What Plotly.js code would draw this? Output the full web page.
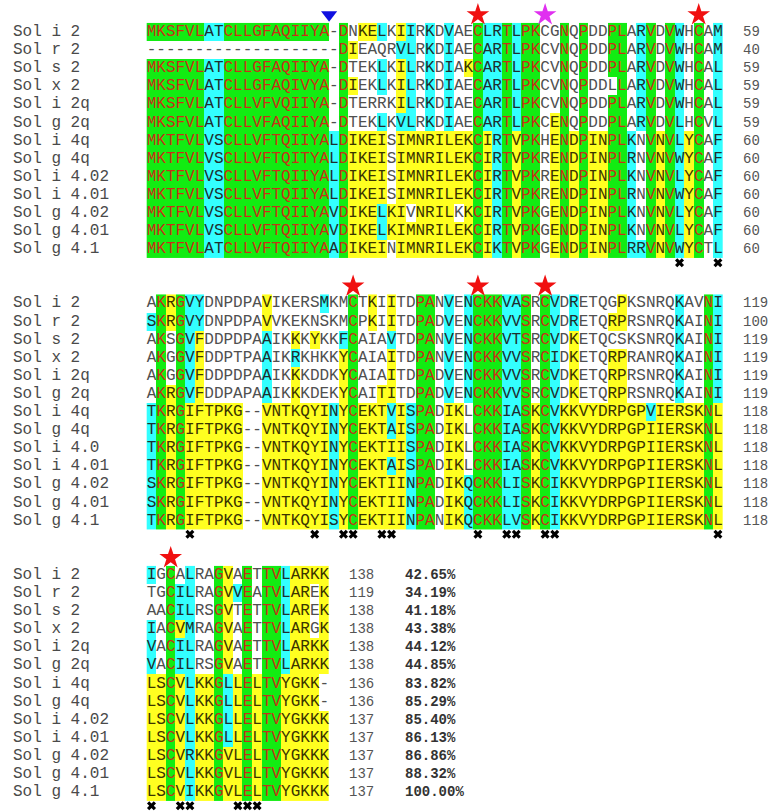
<!DOCTYPE html>
<html><head><meta charset="utf-8">
<script src="https://cdn.plot.ly/plotly-3.0.1.min.js"></script>
<style>html,body{margin:0;padding:0;background:#fff}#chart{width:769px;height:811px}</style>
</head><body><div id="chart"></div>
<script>
// ---------------- data ----------------
const labels1 = ["Sol i 2","Sol r 2","Sol s 2","Sol x 2","Sol i 2q","Sol g 2q","Sol i 4q","Sol g 4q","Sol i 4.02","Sol i 4.01","Sol g 4.02","Sol g 4.01","Sol g 4.1"];
const labels2 = ["Sol i 2","Sol r 2","Sol s 2","Sol x 2","Sol i 2q","Sol g 2q","Sol i 4q","Sol g 4q","Sol i 4.0","Sol i 4.01","Sol g 4.02","Sol g 4.01","Sol g 4.1"];
const labels3 = labels1;

const seqBlock1 = [
"MKSFVLATCLLGFAQIIYA-DNKELKIIRKDVAECLRTLPKCGNQPDDPLARVDVWHCAM",
"--------------------DIEAQRVLRKDIAECARTLPKCVNQPDDPLARVDVWHCAM",
"MKSFVLATCLLGFAQIIYA-DTEKLKILRKDIAKCARTLPKCVNQPDDPLARVDVWHCAL",
"MKSFVLATCLLGFAQIVYA-DIEKLKILRKDIAECARTLPKCVNQPDDLLARVDVWHCAL",
"MKSFVLATCLLVFVQIIYA-DTERRKILRKDIAECARTLPKCVNQPDDPLARVDVWHCAL",
"MKSFVLATCLLVFAQIIYA-DTEKLKVLRKDIAECARTLPKCENQPDDPLARVDVLHCVL",
"MKTFVLVSCLLVFTQIIYALDIKEISIMNRILEKCIRTVPKHENDPINPLKNVNVLYCAF",
"MKTFVLVSCLLVFTQITYALDIKEISIMNRILEKCIRTVPKRENDPINPLRNVNVWYCAF",
"MKTFVLVSCLLVFTQIIYALDIKEISIMNRILEKCIRTVPKRENDPINPLKNVNVLYCAF",
"MKTFVLVSCLLVFTQIIYALDIKEISIMNRILEKCIRTVPKRENDPINPLRNVNVWYCAF",
"MKTFVLVSCLLVFTQIIYAVDIKELKIVNRILKKCIRTVPKGENDPINPLKNVNVLYCAF",
"MKTFVLVSCLLVFTQIIYAVDIKELKIMNRILEKCIRTVPKGENDPINPLKNVNVLYCAF",
"MKTFVLATCLLVFTQIIYAADIKEINIMNRILEKCIKTVPKGENDPINPLRRVNVWYCTL"];
const seqBlock2 = [
"AKRGVYDNPDPAVIKERSMKMCTKIITDPANVENCKKVASRCVDRETQGPKSNRQKAVNI",
"SKRGVYDNPDPAVVKEKNSKMCPKIITDPADVENCKKVVSRCVDRETQRPRSNRQKAINI",
"AKSGVFDDPDPAAIKKKYKKFCAIAVTDPANVENCKKVTSRCVDKETQCSKSNRQKAINI",
"AKGGVFDDPTPAAIKRKHKKYCAIAITDPANVENCKKVVSRCIDKETQRPRANRQKAINI",
"AKGGVFDDPDPAAIKKKDDKYCAIAITDPADVENCKKVVSRCVDKETQRPRSNRQKAINI",
"AKRGVFDDPAPAAIKKKDEKYCAITITDPADVENCKKVVSRCVDKETQRPRSNRQKAINI",
"TKRGIFTPKG--VNTKQYINYCEKTVISPADIKLCKKIASKCVKKVYDRPGPVIERSKNL",
"TKRGIFTPKG--VNTKQYINYCEKTAISPADIKLCKKIASKCVKKVYDRPGPIIERSKNL",
"TKRGIFTPKG--VNTKQYINYCEKTIISPADIKLCKKIASKCVKKVYDRPGPIIERSKNL",
"TKRGIFTPKG--VNTKQYINYCEKTAISPADIKLCKKIASKCVKKVYDRPGPIIERSKNL",
"SKRGIFTPKG--VNTKQYINYCEKTIINPADIKQCKKLISKCIKKVYDRPGPIIERSKNL",
"SKRGIFTPKG--VNTKQYINYCEKTIINPADIKQCKKLISKCIKKVYDRPGPIIERSKNL",
"TKRGIFTPKG--VNTKQYISYCEKTIINPANIKQCKKLVSKCIKKVYDRPGPIIERSKNL"];
const seqBlock3 = [
"IGCALRAGVAETTVLARKK","TGCILRAGVVEATVLAREK","AACILRSGVTETTVLAREK","IACVMRAGVAETTVLARGK",
"VACILRAGVAETTVLARKK","VACILRSGVAETTVLARKK","LSCVLKKGLLELTVYGKK-","LSCVLKKGLLELTVYGKK-",
"LSCVLKKGLLELTVYGKKK","LSCVLKKGLLELTVYGKKK","LSCVRKKGVLELTVYGKKK","LSCVLKKGVLELTVYGKKK",
"LSCVIKKGVLELTVYGKKK"];

// conservation class of every residue, in groups of ten: G green, C cyan, Y yellow, W none
const shadeBlock1 = [
"GGGGGGCCGG GGGGGGGGGW GWYYCWYCWC WCWWGCCGCG GWWGWGWWGG WCGWGCWGWC",
"WWWWWWWWWW WWWWWWWWWW GYWWWWCCWC WCWWGCCGCG GWWGWGWWGG WCGWGCWGWC",
"GGGGGGCCGG GGGGGGGGGW GWWWCWYCWC WCWYGCCGCG GWWGWGWWGG WCGWGCWGWC",
"GGGGGGCCGG GGGGGGGGGW GYWWCWYCWC WCWWGCCGCG GWWGWGWWWG WCGWGCWGWC",
"GGGGGGCCGG GGGGGGGGGW GWWWWWYCWC WCWWGCCGCG GWWGWGWWGG WCGWGCWGWC",
"GGGGGGCCGG GGGGGGGGGW GWWWCWCCWC WCWWGCCGCG GWYGWGWWGG WCGWGCWGWC",
"GGGGGGCCGG GGGGGGGGGC GYYYYWYYYY YYYYGYCGYG GWYGYGYYGG CWGYGCYGWC",
"GGGGGGCCGG GGGGGGGGGC GYYYYWYYYY YYYYGYCGYG GWYGYGYYGG CWGYGCYGWC",
"GGGGGGCCGG GGGGGGGGGC GYYYYWYYYY YYYYGYCGYG GWYGYGYYGG CWGYGCYGWC",
"GGGGGGCCGG GGGGGGGGGC GYYYYWYYYY YYYYGYCGYG GWYGYGYYGG CWGYGCYGWC",
"GGGGGGCCGG GGGGGGGGGC GYYYCYYWYY YYWYGYCGYG GWYGYGYYGG CWGYGCYGWC",
"GGGGGGCCGG GGGGGGGGGC GYYYCYYYYY YYYYGYCGYG GWYGYGYYGG CWGYGCYGWC",
"GGGGGGCCGG GGGGGGGGGC GYYYYWYYYY YYYYGYCGYG GWYGYGYYGG CCGYGCYGWC"];
const shadeBlock2 = [
"WGYGCCWWWW WWYWWWWWCW WGWYWYWWGG WCWCGGGCCG WGCWCWWWWY WWWWWCWWGC",
"CGYGCCWWWW WWYWWWWWWW WGWYWYWWGG WCWCGGGCCG WGCWCWWWYY WWWWWCWWGC",
"WGWGCYWWWW WWCWWYWYWW CGWWWCWWGG WCWCGGGCCG WGCWYWWWWW WWWWWCWWGC",
"WGWGCYWWWW WWCWWCWWWW YGWWWYWWGG WCWCGGGCCG WGCWYWWWYY WWWWWCWWGC",
"WGWGCYWWWW WWCWWYWWWW YGWWWYWWGG WCWCGGGCCG WGCWYWWWYY WWWWWCWWGC",
"WGYGCYWWWW WWCWWYWWWW YGWWYYWWGG WCWCGGGCCG WGCWYWWWYY WWWWWCWWGC",
"CGYGYYYYYY WWYYYYYYYC YGYYYCYCGG WYYWGGGCCG YGCYYYYYYY YYCYYYYYGY",
"CGYGYYYYYY WWYYYYYYYC YGYYYCYCGG WYYWGGGCCG YGCYYYYYYY YYYYYYYYGY",
"CGYGYYYYYY WWYYYYYYYC YGYYYYYCGG WYYWGGGCCG YGCYYYYYYY YYYYYYYYGY",
"CGYGYYYYYY WWYYYYYYYC YGYYYCYCGG WYYWGGGCCG YGCYYYYYYY YYYYYYYYGY",
"CGYGYYYYYY WWYYYYYYYC YGYYYYYCGG WYYCGGGCCG YGCYYYYYYY YYYYYYYYGY",
"CGYGYYYYYY WWYYYYYYYC YGYYYYYCGG WYYCGGGCCG YGCYYYYYYY YYYYYYYYGY",
"CGYGYYYYYY WWYYYYYYYC YGYYYYYCGG WYYCGGGCCG YGCYYYYYYY YYYYYYYYGY"];
const shadeBlock3 = [
"CWGWCWWGYW GWGGCYYYY","WWGCCWWGYC GWGGCYYWY","WWGCCWWGYW GWGGCYYWY","CWGYCWWGYW GWGGCYYWY",
"CWGCCWWGYW GWGGCYYYY","CWGCCWWGYW GWGGCYYYY","YYGYCYYGCY GYGGYYYYW","YYGYCYYGCY GYGGYYYYW",
"YYGYCYYGCY GYGGYYYYY","YYGYCYYGCY GYGGYYYYY","YYGYCYYGYY GYGGYYYYY","YYGYCYYGYY GYGGYYYYY",
"YYGYCYYGYY GYGGYYYYY"];

const endBlock1 = [59,40,59,59,59,59,60,60,60,60,60,60,60];
const endBlock2 = [119,100,119,119,119,119,118,118,118,118,118,118,118];
const endBlock3 = [138,119,138,138,138,138,136,136,137,137,137,137,137];
const identity = ["42.65%","34.19%","41.18%","43.38%","44.12%","44.85%","83.82%","85.29%","85.40%","86.13%","86.86%","88.32%","100.00%"];

// site annotations (alignment column of each block)
const cysteineStars = [[34,57],[21,34,41],[2]];
const magentaStars  = [[41],[],[]];
const cleavageSite  = [[18.5],[],[]];
const variableSites = [[55,59],[4,17,20,21,24,25,34,37,38,41,42,59],[0,3,4,9,10,11]];

// ---------------- drawing ----------------
const LINES = 15;               // lines per block (13 sequences + marks)
const FONT = "Liberation Mono, Courier New, monospace";
const bg = {G:"#12ec12", C:"#33ffff", Y:"#ffff20"};
const fg = {G:"#c83018", C:"#1e2e2e", Y:"#3a3400", W:"#505050"};
const classVal = {G:1, C:2, Y:3};

const blocks = [
  {seqs:seqBlock1, shades:shadeBlock1, labels:labels1, ends:endBlock1},
  {seqs:seqBlock2, shades:shadeBlock2, labels:labels2, ends:endBlock2},
  {seqs:seqBlock3, shades:shadeBlock3, labels:labels3, ends:endBlock3, pct:identity}
];

const traces = [];
const annotations = [];

blocks.forEach((blk, b) => {
  const ncol = blk.seqs[0].length;
  const z = [], ys = [];
  const tx = [], ty = [], tt = [], tc = [];
  blk.seqs.forEach((s, r) => {
    const line = b*LINES + r;
    const sh = blk.shades[r].replace(/\s+/g,'');
    const row = [];
    for (let c = 0; c < ncol; c++) {
      const k = sh[c] || 'W';
      row.push(k in classVal ? classVal[k] : null);
      tx.push(c); ty.push(line); tt.push(s[c]); tc.push(fg[k] || fg.W);
    }
    z.push(row); ys.push(line);
    annotations.push({x:-14.5, y:line, xref:'x', yref:'y', text:blk.labels[r], showarrow:false,
      xanchor:'left', yanchor:'middle', borderpad:0, font:{family:FONT, size:16, color:'#4a4a4a'}});
    annotations.push({x:ncol+1.5, y:line, xref:'x', yref:'y', text:String(blk.ends[r]), showarrow:false,
      xanchor:'left', yanchor:'middle', borderpad:0, font:{family:FONT, size:14, color:'#555'}});
    if (blk.pct) {
      annotations.push({x:26.3, y:line, xref:'x', yref:'y', text:'<b>'+blk.pct[r]+'</b>', showarrow:false,
        xanchor:'left', yanchor:'middle', borderpad:0, font:{family:FONT, size:14, color:'#333'}});
    }
  });
  traces.push({type:'heatmap', x:[...Array(ncol).keys()], y:ys, z:z, zmin:0.5, zmax:3.5,
    colorscale:[[0,bg.G],[0.3333,bg.G],[0.3334,bg.C],[0.6666,bg.C],[0.6667,bg.Y],[1,bg.Y]],
    showscale:false, hoverinfo:'skip', xgap:0, ygap:0, zsmooth:false});
  traces.push({type:'scatter', mode:'text', x:tx, y:ty, text:tt, textposition:'middle center',
    textfont:{family:FONT, size:16, color:tc}, hoverinfo:'skip', showlegend:false, cliponaxis:false});

  const top = b*LINES - 0.95, bottom = b*LINES + 12.75;
  traces.push({type:'scatter', mode:'markers', x:cysteineStars[b], y:cysteineStars[b].map(()=>top),
    marker:{symbol:'star', size:17, color:'#f01010', line:{width:0}}, hoverinfo:'skip', showlegend:false, cliponaxis:false});
  if (magentaStars[b].length) traces.push({type:'scatter', mode:'markers', x:magentaStars[b], y:magentaStars[b].map(()=>top),
    marker:{symbol:'star', size:17, color:'#e030f0', line:{width:0}}, hoverinfo:'skip', showlegend:false, cliponaxis:false});
  if (cleavageSite[b].length) traces.push({type:'scatter', mode:'markers', x:cleavageSite[b], y:cleavageSite[b].map(()=>top),
    marker:{symbol:'triangle-down', size:14, color:'#1010e0', line:{width:0}}, hoverinfo:'skip', showlegend:false, cliponaxis:false});
  traces.push({type:'scatter', mode:'markers', x:variableSites[b], y:variableSites[b].map(()=>bottom),
    marker:{symbol:'x', size:8, color:'#000', line:{width:0}}, hoverinfo:'skip', showlegend:false, cliponaxis:false});
});

const layout = {
  width:769, height:811, margin:{l:0,r:0,t:0,b:0}, paper_bgcolor:'#fff', plot_bgcolor:'#fff',
  showlegend:false,
  xaxis:{range:[-15.78, 64.32], visible:false, fixedrange:true},
  yaxis:{range:[43.04, -1.768], visible:false, fixedrange:true},
  annotations:annotations
};
Plotly.newPlot('chart', traces, layout, {staticPlot:true, displayModeBar:false});
</script></body></html>
